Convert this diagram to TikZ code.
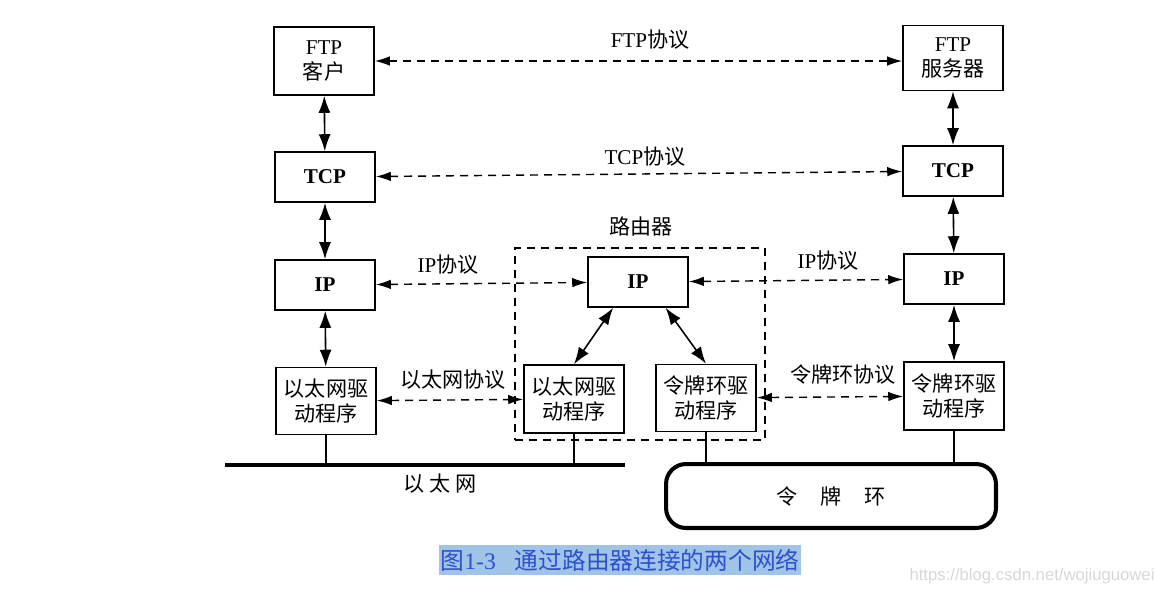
\documentclass[tikz,border=0pt]{standalone}
\usepackage{fontspec}
\setmainfont{Liberation Serif}
\newfontfamily\cjk{Noto Sans CJK SC}
\newfontfamily\markfont{Liberation Sans}
\usetikzlibrary{arrows.meta}
\definecolor{capbg}{RGB}{160,196,232}
\definecolor{captext}{RGB}{45,80,205}
\definecolor{markgray}{RGB}{215,215,215}

\begin{document}
\begin{tikzpicture}[x=0.02cm,y=-0.02cm,font=\fontsize{12}{14.5}\selectfont]
    \tikzstyle{layer}=[draw,line width=0.9pt,minimum width=2cm,minimum height=1cm,align=center,inner sep=0pt]
    \tikzstyle{peer}=[{Latex[length=3mm,width=1.9mm]}-{Latex[length=3mm,width=1.9mm]},dashed,line width=0.8pt,dash pattern=on 1.6mm off 1.2mm]
    \tikzstyle{stack}=[{Latex[length=3.4mm,width=2.4mm]}-{Latex[length=3.4mm,width=2.4mm]},line width=0.9pt]
    \tikzstyle{wire}=[line width=0.8pt]

    \useasboundingbox (0,0) rectangle (1155,593);

    % Host on the left
    \node[layer,minimum height=1.36cm] (ftpc) at (324,61) {FTP\\{\cjk 客户}};
    \node[layer] (tcpl) at (325,177) {\textbf{TCP}};
    \node[layer] (ipl) at (325,285) {\textbf{IP}};
    \node[layer,minimum height=1.34cm] (ethl) at (326,401) {{\cjk 以太网驱}\\{\cjk 动程序}};

    % Router
    \node[draw,dashed,line width=0.8pt,dash pattern=on 1.6mm off 1.2mm,minimum width=5cm,minimum height=3.84cm] (rt) at (640,344) {};
    \node at (641,226) (rtname) {\cjk 路由器};
    \node[layer] (ipm) at (638,282) {\textbf{IP}};
    \node[layer,minimum height=1.36cm] (ethm) at (574,399) {{\cjk 以太网驱}\\{\cjk 动程序}};
    \node[layer,minimum height=1.34cm] (tokm) at (706,398) {{\cjk 令牌环驱}\\{\cjk 动程序}};

    % Host on the right
    \node[layer,minimum height=1.3cm] (ftps) at (953,58) {FTP\\{\cjk 服务器}};
    \node[layer] (tcpr) at (953,171) {\textbf{TCP}};
    \node[layer] (ipr) at (954,279) {\textbf{IP}};
    \node[layer,minimum height=1.36cm] (tokr) at (954,396) {{\cjk 令牌环驱}\\{\cjk 动程序}};

    % Networks
    \coordinate (ethA) at (225,465);
    \coordinate (ethB) at (625,465);
    \draw[line width=2.3pt] (ethA) -- (ethB);
    \node at (440,484) (ethname) {\cjk 以\hspace{0.25em}太\hspace{0.25em}网};
    \node[draw,line width=2.3pt,rounded corners=0.4cm,minimum width=6.6cm,minimum height=1.28cm] (ring) at (831,496) {\cjk 令\hspace{1.1em}牌\hspace{1.1em}环};

    % Connect drivers to networks
    \draw[wire] (ethl.south) -- (ethl.south |- ethA);
    \draw[wire] (ethm.south) -- (ethm.south |- ethA);
    \draw[wire] (tokm.south) -- (tokm.south |- ring.north);
    \draw[wire] (tokr.south) -- (tokr.south |- ring.north);

    % Connect layers within each stack
    \draw[stack] (ftpc) -- (tcpl);
    \draw[stack] (tcpl) -- (ipl);
    \draw[stack] (ipl) -- (ethl);
    \draw[stack] (ftps) -- (tcpr);
    \draw[stack] (tcpr) -- (ipr);
    \draw[stack] (ipr) -- (tokr);
    \draw[stack] (ipm.226) -- (ethm.north);
    \draw[stack] (ipm.317) -- (tokm.north);

    % Peer protocols
    \draw[peer] (ftpc.east) -- (ftpc.east -| ftps.west);
    \draw[peer] (tcpl) -- (tcpr);
    \draw[peer] (ipl) -- (ipm);
    \draw[peer] (ipm) -- (ipr);
    \draw[peer] (ethl) -- (ethm);
    \draw[peer] (tokm) -- (tokr);

    % Annotate protocols
    \node at (650,40) (l1) {FTP{\cjk 协议}};
    \node at (645,157) (l2) {TCP{\cjk 协议}};
    \node at (448,265) (l3) {IP{\cjk 协议}};
    \node at (828,261) (l4) {IP{\cjk 协议}};
    \node at (453,380) (l5) {\cjk 以太网协议};
    \node at (843,375) (l6) {\cjk 令牌环协议};

    % Caption
    \node[fill=capbg,text=captext,inner sep=1pt,minimum height=0.6cm,font=\fontsize{13.5}{16}\selectfont] (cap) at (620,560) {{\cjk 图}1-3\hspace{0.8em}{\cjk 通过路由器连接的两个网络}};
    \node[text=markgray,font=\markfont\fontsize{9.5}{11}\selectfont] (mark) at (1032,576) {https://blog.csdn.net/wojiuguowei};

\end{tikzpicture}
\end{document}
